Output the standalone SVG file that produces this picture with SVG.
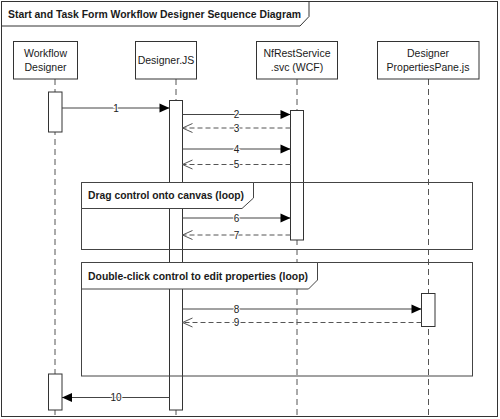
<svg xmlns="http://www.w3.org/2000/svg" width="500" height="419" viewBox="0 0 500 419">
<style>
text{font-family:"Liberation Sans",Arial,sans-serif;fill:#1a1a1a}
.lbl{font-size:10.5px;text-anchor:middle}
.bold{font-weight:bold;font-size:10.5px}
.box{fill:#fff;stroke:#333;stroke-width:1}
.life{stroke:#555;stroke-width:1;stroke-dasharray:6,4;fill:none}
.bar{fill:#fff;stroke:#333;stroke-width:1}
.frame{fill:none;stroke:#444;stroke-width:1}
.tab{fill:#fff;stroke:#444;stroke-width:1}
.msg{stroke:#444;stroke-width:1;fill:none}
.ret{stroke:#555;stroke-width:1;stroke-dasharray:5,3;fill:none}
.num{font-size:10px;text-anchor:middle;fill:#222;stroke:#fff;stroke-width:2;paint-order:stroke}
</style>
<defs>
<marker id="af" markerUnits="userSpaceOnUse" markerWidth="11" markerHeight="10" refX="10" refY="5" orient="auto" overflow="visible"><path d="M0,0.5 L10,5 L0,9.5 Z" fill="#000"/></marker>
<marker id="ao" markerUnits="userSpaceOnUse" markerWidth="11" markerHeight="10" refX="10" refY="5" orient="auto" overflow="visible"><path d="M0,0.5 L10,5 L0,9.5" fill="none" stroke="#555" stroke-width="1"/></marker>
</defs>
<rect x="0" y="0" width="500" height="419" fill="#fff"/>
<g id="diagram-frame">
<rect x="1.5" y="1.5" width="496" height="415" fill="none" stroke="#333" stroke-width="1"/>
<path d="M1.5,26 H300 L309,16.5 V1.5" fill="none" stroke="#333" stroke-width="1"/>
<text class="bold" x="8" y="17.5" textLength="293" lengthAdjust="spacingAndGlyphs">Start and Task Form Workflow Designer Sequence Diagram</text>
</g>
<g id="lifelines">
<line class="life" x1="55" y1="79" x2="55" y2="416"/>
<line class="life" x1="176" y1="79" x2="176" y2="416"/>
<line class="life" x1="297" y1="79" x2="297" y2="416"/>
<line class="life" x1="428.5" y1="79" x2="428.5" y2="416"/>
</g>
<g id="node-workflow-designer">
<rect class="box" x="13.5" y="41.5" width="64" height="37.5"/>
<text class="lbl" x="45.5" y="57">Workflow</text>
<text class="lbl" x="45.5" y="71">Designer</text>
</g>
<g id="node-designer-js">
<rect class="box" x="135.5" y="41.5" width="61" height="37.5"/>
<text class="lbl" x="166" y="64">Designer.JS</text>
</g>
<g id="node-nfrestservice">
<rect class="box" x="256.5" y="41.5" width="81" height="37.5"/>
<text class="lbl" x="297" y="57">NfRestService</text>
<text class="lbl" x="297" y="71">.svc (WCF)</text>
</g>
<g id="node-propertiespane">
<rect class="box" x="377.5" y="41.5" width="101.5" height="37.5"/>
<text class="lbl" x="428" y="57">Designer</text>
<text class="lbl" x="428" y="71">PropertiesPane.js</text>
</g>
<g id="activations">
<rect class="bar" x="48.5" y="92" width="13.5" height="40"/>
<rect class="bar" x="48.5" y="374" width="13.5" height="36"/>
<rect class="bar" x="169.5" y="100.5" width="13" height="309.5"/>
<rect class="bar" x="290.5" y="110.5" width="13" height="129.5"/>
<rect class="bar" x="421.5" y="293.5" width="13.5" height="33"/>
</g>
<g id="loop-drag">
<rect class="frame" x="81.5" y="182.5" width="391" height="67"/>
<path class="tab" d="M81.5,182.5 H253.5 V198 L242,208.5 H81.5 Z"/>
<text class="bold" x="88" y="198.5" textLength="156" lengthAdjust="spacingAndGlyphs">Drag control onto canvas (loop)</text>
</g>
<g id="loop-doubleclick">
<rect class="frame" x="81.5" y="262.5" width="391" height="113.5"/>
<path class="tab" d="M81.5,262.5 H317.5 V280 L308.5,289 H81.5 Z"/>
<text class="bold" x="88" y="279.5" textLength="220" lengthAdjust="spacingAndGlyphs">Double-click control to edit properties (loop)</text>
</g>
<g id="connectors">
<line class="msg" x1="62" y1="108" x2="169.5" y2="108" marker-end="url(#af)"/>
<text class="num" x="116" y="111.5">1</text>
<line class="msg" x1="182.5" y1="114.5" x2="290.5" y2="114.5" marker-end="url(#af)"/>
<text class="num" x="236.5" y="118">2</text>
<line class="ret" x1="290.5" y1="128" x2="182.5" y2="128" marker-end="url(#ao)"/>
<text class="num" x="236.5" y="131.5">3</text>
<line class="msg" x1="182.5" y1="149" x2="290.5" y2="149" marker-end="url(#af)"/>
<text class="num" x="236.5" y="152.5">4</text>
<line class="ret" x1="290.5" y1="164.5" x2="182.5" y2="164.5" marker-end="url(#ao)"/>
<text class="num" x="236.5" y="168">5</text>
<line class="msg" x1="182.5" y1="218" x2="290.5" y2="218" marker-end="url(#af)"/>
<text class="num" x="236.5" y="221.5">6</text>
<line class="ret" x1="290.5" y1="235" x2="182.5" y2="235" marker-end="url(#ao)"/>
<text class="num" x="236.5" y="238.5">7</text>
<line class="msg" x1="182.5" y1="309" x2="421.5" y2="309" marker-end="url(#af)"/>
<text class="num" x="236.5" y="312.5">8</text>
<line class="ret" x1="421.5" y1="322.5" x2="182.5" y2="322.5" marker-end="url(#ao)"/>
<text class="num" x="236.5" y="326">9</text>
<line class="msg" x1="169.5" y1="397.5" x2="62" y2="397.5" marker-end="url(#af)"/>
<text class="num" x="116" y="401">10</text>
</g>
</svg>
